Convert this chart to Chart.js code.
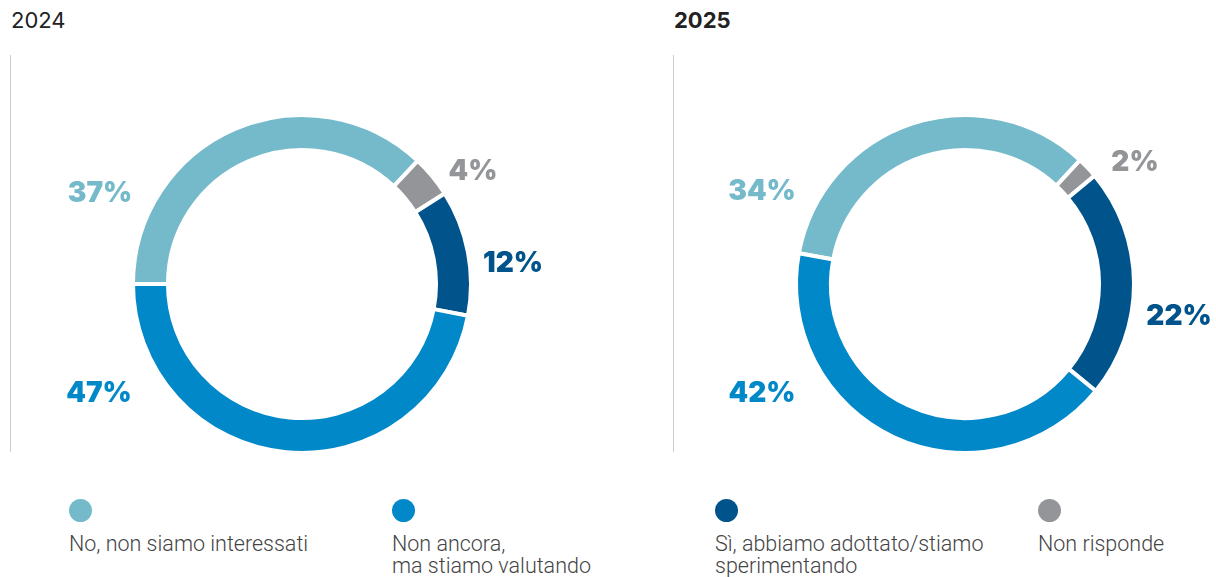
<!DOCTYPE html>
<html>
<head>
<meta charset="utf-8">
<script src="https://cdn.jsdelivr.net/npm/chart.js@4"></script>
<style>
  body { margin: 0; background: #fff; width: 1216px; height: 577px; position: relative; overflow: hidden; font-family: Inter, sans-serif; }
  .title { position: absolute; top: 9px; font-size: 22px; line-height: 22px; color: #222; }
  .vline { position: absolute; top: 55px; height: 397px; width: 1px; background: #cccccc; }
  .box { position: absolute; top: 0; height: 470px; }
  .leg { position: absolute; top: 499px; font-family: Roboto, sans-serif; font-weight: 300; font-size: 21.5px; line-height: 22px; color: #444; }
  .leg span { display: block; width: 23px; height: 23px; border-radius: 50%; margin-bottom: 11px; }
</style>
</head>
<body>
<div class="title" style="left:11px;font-weight:400">2024</div>
<div class="title" style="left:674px;font-weight:700">2025</div>
<div class="vline" style="left:10px"></div>
<div class="vline" style="left:673px"></div>
<div class="box" style="left:0;width:660px"><canvas id="chart2024"></canvas></div>
<div class="box" style="left:663px;width:553px"><canvas id="chart2025"></canvas></div>
<div id="legend"></div>

<script>
// categorie nell'ordine dei settori (in senso orario)
const categorie = ["No, non siamo interessati", "Non risponde", "Sì, abbiamo adottato/stiamo<br>sperimentando", "Non ancora,<br>ma stiamo valutando"];
const colori = ["#75bacb", "#939598", "#00538b", "#0088c9"];
const valori2024 = [37, 4, 12, 47];
const valori2025 = [34, 2, 22, 42];
const ordineLegenda = [0, 3, 2, 1];

// posizione delle etichette rispetto al centro del grafico
const etichette2024 = [[-202, -92], [171, -114], [211, -22], [-203, 108]];
const etichette2025 = [[-203, -94], [170, -123], [214, 31], [-203, 108]];

const percentLabels = {
  id: "percentLabels",
  afterDatasetsDraw(chart, args, opts) {
    const ctx = chart.ctx;
    const arc = chart.getDatasetMeta(0).data[0];
    const values = chart.data.datasets[0].data;
    ctx.save();
    ctx.font = "900 28px Inter";
    ctx.textAlign = "center";
    ctx.textBaseline = "alphabetic";
    values.forEach((v, i) => {
      ctx.fillStyle = colori[i];
      ctx.fillText(v + "%", arc.x + opts.pos[i][0], arc.y + opts.pos[i][1] + 10);
    });
    ctx.restore();
  }
};

function creaGrafico(id, valori, rotazione, posizioni, padRight) {
  new Chart(document.getElementById(id), {
    type: "doughnut",
    data: {
      labels: categorie,
      datasets: [{
        data: valori,
        backgroundColor: colori,
        borderColor: "#ffffff",
        borderWidth: 4
      }]
    },
    options: {
      responsive: true,
      maintainAspectRatio: false,
      animation: false,
      events: [],
      rotation: rotazione,
      cutout: "79.3%",
      layout: { padding: { left: 131, right: padRight, top: 113, bottom: 15 } },
      plugins: {
        legend: { display: false },
        tooltip: { enabled: false },
        percentLabels: { pos: posizioni }
      }
    },
    plugins: [percentLabels]
  });
}

try {
  creaGrafico("chart2024", valori2024, -90, etichette2024, 187);
  creaGrafico("chart2025", valori2025, -79.5, etichette2025, 80);
} catch (error) {
  console.error("Errore grafico:", error);
}

// legenda
const xLegenda = [69, 392, 715, 1038];
const legend = document.getElementById("legend");
ordineLegenda.forEach((idx, k) => {
  const d = document.createElement("div");
  d.className = "leg";
  d.style.left = xLegenda[k] + "px";
  d.innerHTML = '<span style="background:' + colori[idx] + '"></span>' + categorie[idx];
  legend.appendChild(d);
});
</script>
</body>
</html>
